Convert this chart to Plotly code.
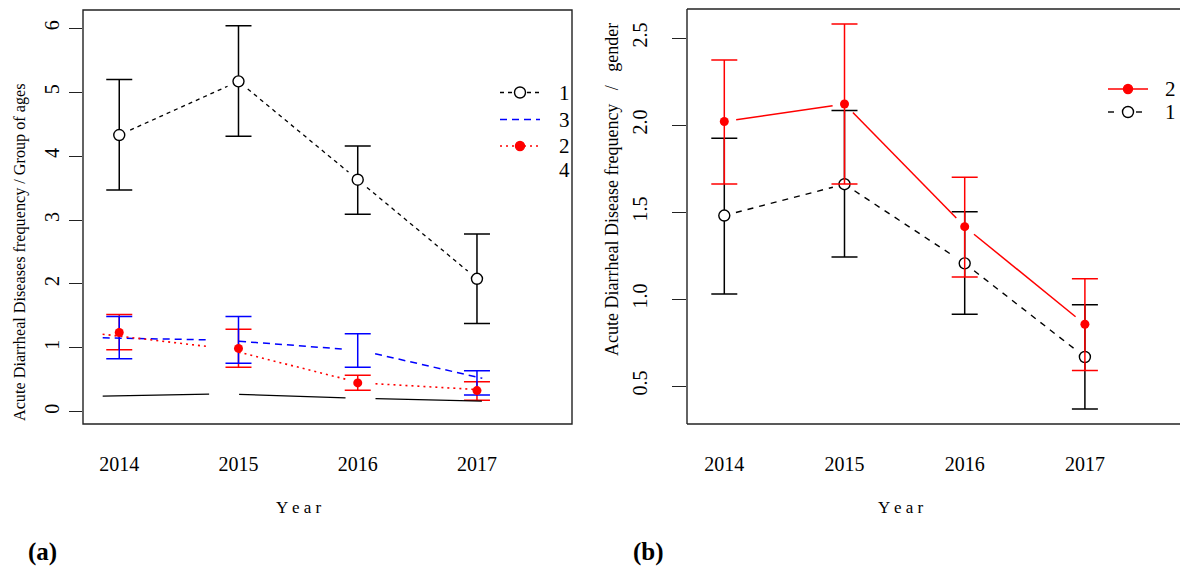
import plotly.graph_objects as go

# ---------------- data ----------------
years = [2014, 2015, 2016, 2017]
year_labels = ["2014", "2015", "2016", "2017"]

# panel (a): age groups
g1_mean = [4.33, 5.17, 3.63, 2.08]
g1_upper = [5.20, 6.04, 4.16, 2.78]
g1_lower = [3.47, 4.31, 3.09, 1.38]
g2_mean = [1.24, 0.99, 0.45, 0.33]
g2_upper = [1.52, 1.29, 0.57, 0.47]
g2_lower = [0.97, 0.695, 0.335, 0.18]
g3_mean = [1.16, 1.12, 0.96, 0.47]
g3_upper = [1.49, 1.49, 1.22, 0.64]
g3_lower = [0.83, 0.76, 0.695, 0.26]
g4_mean = [0.24, 0.28, 0.21, 0.16]
a_ticks = [0, 1, 2, 3, 4, 5, 6]
a_legend = ["1", "3", "2", "4"]

# panel (b): gender
s1_mean = [1.48, 1.66, 1.205, 0.667]
s1_upper = [1.924, 2.084, 1.502, 0.967]
s1_lower = [1.029, 1.241, 0.912, 0.368]
s2_mean = [2.02, 2.121, 1.416, 0.855]
s2_upper = [2.374, 2.58, 1.70, 1.117]
s2_lower = [1.661, 1.661, 1.126, 0.59]
b_ticks = [0.5, 1.0, 1.5, 2.0, 2.5]
b_ticktext = ["0.5", "1.0", "1.5", "2.0", "2.5"]
b_legend = ["2", "1"]

# ---------------- geometry ----------------
W, H = 1180, 571
FONT = "Liberation Serif"
A_L, A_R, A_T, A_B = 83, 572, 10, 424
B_L, B_R, B_T, B_B = 687, 1180, 9, 424

ax_a = (2013.696, 2017.797)      # primary x (points / error bars)
ax_a2 = (2013.9655, 2017.5506)   # overlaid x used by the lines of groups 2-4
ay_a = (-0.1925, 6.2864)
ax_b = (2013.6897, 2017.7912)
ay_b = (0.282, 2.6667)


def mapper(rng, p0, p1):
    d0, d1 = rng
    to_px = lambda v: p0 + (v - d0) / (d1 - d0) * (p1 - p0)
    to_d = lambda p: d0 + (p - p0) / (p1 - p0) * (d1 - d0)
    return to_px, to_d


def gapped(xs, ys, xr, xp, yr, yp, gap):
    """Line segments between consecutive points, shortened at both ends (R type='b')."""
    fx, gx = mapper(xr, *xp)
    fy, gy = mapper(yr, *yp)
    ox, oy = [], []
    for i in range(len(xs) - 1):
        px_, py_ = fx(xs[i]), fy(ys[i])
        qx, qy = fx(xs[i + 1]), fy(ys[i + 1])
        d = ((qx - px_) ** 2 + (qy - py_) ** 2) ** 0.5
        t = gap / d
        ox += [gx(px_ + (qx - px_) * t), gx(qx - (qx - px_) * t), None]
        oy += [gy(py_ + (qy - py_) * t), gy(qy - (qy - py_) * t), None]
    return ox, oy


def ebar(x, m, u, l, color, xaxis, yaxis):
    return go.Scatter(
        x=x, y=m, mode="markers", xaxis=xaxis, yaxis=yaxis,
        marker=dict(size=1, color="rgba(0,0,0,0)"), showlegend=False, hoverinfo="skip",
        error_y=dict(type="data", symmetric=False,
                     array=[a - b for a, b in zip(u, m)],
                     arrayminus=[b - c for b, c in zip(m, l)],
                     color=color, thickness=1.5, width=13))


fig = go.Figure()

A_XP = (A_L, A_R)
A_YP = (A_B, A_T)
B_XP = (B_L, B_R)
B_YP = (B_B, B_T)

# ----- panel (a) -----
x4, y4 = gapped(years, g4_mean, ax_a2, A_XP, ay_a, A_YP, 15)
fig.add_trace(go.Scatter(x=x4, y=y4, mode="lines", xaxis="x2", yaxis="y",
                         line=dict(color="black", width=1.3), showlegend=False))
x3, y3 = gapped(years, g3_mean, ax_a2, A_XP, ay_a, A_YP, 15)
fig.add_trace(go.Scatter(x=x3, y=y3, mode="lines", xaxis="x2", yaxis="y",
                         line=dict(color="#0000FF", width=1.5, dash="7px,5px"), showlegend=False))
x2l, y2l = gapped(years, g2_mean, ax_a2, A_XP, ay_a, A_YP, 15)
fig.add_trace(go.Scatter(x=x2l, y=y2l, mode="lines", xaxis="x2", yaxis="y",
                         line=dict(color="#FF0000", width=1.6, dash="2px,4px"), showlegend=False))
x1l, y1l = gapped(years, g1_mean, ax_a, A_XP, ay_a, A_YP, 12)
fig.add_trace(go.Scatter(x=x1l, y=y1l, mode="lines", xaxis="x", yaxis="y",
                         line=dict(color="black", width=1.3, dash="4px,4px"), showlegend=False))

fig.add_trace(ebar(years, g1_mean, g1_upper, g1_lower, "black", "x", "y"))
fig.add_trace(ebar(years, g2_mean, g2_upper, g2_lower, "#FF0000", "x", "y"))
fig.add_trace(ebar(years, g3_mean, g3_upper, g3_lower, "#0000FF", "x", "y"))
fig.add_trace(go.Scatter(x=years, y=g1_mean, mode="markers", xaxis="x", yaxis="y",
                         marker=dict(symbol="circle", size=11, color="white",
                                     line=dict(color="black", width=1.4)), showlegend=False))
fig.add_trace(go.Scatter(x=years, y=g2_mean, mode="markers", xaxis="x", yaxis="y",
                         marker=dict(symbol="circle", size=9, color="#FF0000", line=dict(width=0)),
                         showlegend=False))

# ----- panel (b) -----
xb1, yb1 = gapped(years, s1_mean, ax_b, B_XP, ay_b, B_YP, 12)
fig.add_trace(go.Scatter(x=xb1, y=yb1, mode="lines", xaxis="x3", yaxis="y3",
                         line=dict(color="black", width=1.4, dash="6px,6px"), showlegend=False))
fig.add_trace(ebar(years, s1_mean, s1_upper, s1_lower, "black", "x3", "y3"))
fig.add_trace(go.Scatter(x=years, y=s1_mean, mode="markers", xaxis="x3", yaxis="y3",
                         marker=dict(symbol="circle", size=11, color="white",
                                     line=dict(color="black", width=1.4)), showlegend=False))
xb2, yb2 = gapped(years, s2_mean, ax_b, B_XP, ay_b, B_YP, 12)
fig.add_trace(go.Scatter(x=xb2, y=yb2, mode="lines", xaxis="x3", yaxis="y3",
                         line=dict(color="#FF0000", width=1.5), showlegend=False))
fig.add_trace(ebar(years, s2_mean, s2_upper, s2_lower, "#FF0000", "x3", "y3"))
fig.add_trace(go.Scatter(x=years, y=s2_mean, mode="markers", xaxis="x3", yaxis="y3",
                         marker=dict(symbol="circle", size=9, color="#FF0000", line=dict(width=0)),
                         showlegend=False))

# ---------------- layout ----------------
def px(x):
    return x / W


def py(y):
    return 1 - y / H


tickfont = dict(family=FONT, size=20, color="black")
xcommon = dict(tickvals=years, ticktext=year_labels, ticks="", showline=False, showgrid=False,
               zeroline=False, tickfont=tickfont, ticklabelstandoff=26)
ycommon = dict(ticks="outside", tickwidth=1.3, tickcolor="#222", showline=False,
               showgrid=False, zeroline=False, tickfont=tickfont, tickangle=-90)

fig.update_layout(
    width=W, height=H, margin=dict(l=0, r=0, t=0, b=0),
    paper_bgcolor="white", plot_bgcolor="white", showlegend=False,
    font=dict(family=FONT, color="black"),
    xaxis=dict(domain=[px(A_L), px(A_R)], range=list(ax_a), anchor="y", **xcommon),
    xaxis2=dict(overlaying="x", range=list(ax_a2), visible=False, anchor="y"),
    yaxis=dict(domain=[py(A_B), py(A_T)], range=list(ay_a), anchor="x",
               tickvals=a_ticks, ticklen=13, ticklabelstandoff=2, **ycommon),
    xaxis3=dict(domain=[px(B_L), 1.0], range=list(ax_b), anchor="y3", **xcommon),
    yaxis3=dict(domain=[py(B_B), py(B_T)], range=list(ay_b), anchor="x3",
                tickvals=b_ticks, ticktext=b_ticktext, ticklen=14, ticklabelstandoff=17,
                **ycommon),
)

shapes = []
shapes.append(dict(type="rect", xref="paper", yref="paper", x0=px(A_L), x1=px(A_R),
                   y0=py(A_B), y1=py(A_T), line=dict(color="#222", width=1.4)))


def hline(x0, x1, y, color, dash="solid", width=1.4):
    shapes.append(dict(type="line", xref="paper", yref="paper", x0=px(x0), x1=px(x1),
                       y0=py(y), y1=py(y), line=dict(color=color, width=width, dash=dash)))


def vline(x, y0, y1, color, width=1.4):
    shapes.append(dict(type="line", xref="paper", yref="paper", x0=px(x), x1=px(x),
                       y0=py(y0), y1=py(y1), line=dict(color=color, width=width)))


# panel (b) frame: its right side runs off the page
hline(B_L, B_R + 10, B_T, "#222")
hline(B_L, B_R + 10, B_B, "#222")
vline(B_L, B_T, B_B, "#222")


def dot(cx, cy, r, fill, line):
    shapes.append(dict(type="circle", xref="paper", yref="paper", x0=px(cx - r), x1=px(cx + r),
                       y0=py(cy + r), y1=py(cy - r), fillcolor=fill,
                       line=dict(color=line, width=1.4)))


# legend (a)
leg_a_y = [92.5, 119.5, 146, 170]
hline(500, 513, leg_a_y[0], "black", "4px,4px", 1.3)
hline(527, 540, leg_a_y[0], "black", "4px,4px", 1.3)
dot(520, leg_a_y[0], 5.5, "white", "black")
hline(500, 540, leg_a_y[1], "#0000FF", "7px,5px", 1.5)
hline(500, 540, leg_a_y[2], "#FF0000", "2px,4px", 1.6)
dot(520, leg_a_y[2], 4.5, "#FF0000", "#FF0000")

# legend (b)
leg_b_y = [89, 112]
hline(1108, 1148, leg_b_y[0], "#FF0000", "solid", 1.5)
dot(1128, leg_b_y[0], 4.5, "#FF0000", "#FF0000")
hline(1108, 1120, leg_b_y[1], "black", "6px,6px", 1.4)
hline(1136, 1148, leg_b_y[1], "black", "6px,6px", 1.4)
dot(1128, leg_b_y[1], 5.5, "white", "black")

fig.update_layout(shapes=shapes)


def label(text, x, y, size, angle=0):
    return dict(text=text, x=px(x), y=py(y), xref="paper", yref="paper", showarrow=False,
                xanchor="center", yanchor="middle", textangle=angle,
                font=dict(family=FONT, size=size, color="black"))


ann = []
for lab, yy in zip(a_legend, leg_a_y):
    ann.append(label(lab, 564, yy, 21))
for lab, yy in zip(b_legend, leg_b_y):
    ann.append(label(lab, 1170, yy, 21))
ann.append(label("Acute Diarrheal Diseases frequency / Group of ages", 20, 252, 16.2, -90))
ann.append(label("Acute Diarrheal Disease frequency&nbsp;&nbsp;&nbsp;/&nbsp;&nbsp;&nbsp;gender",
                 612, 190, 18, -90))
ann.append(label("Y e a r", 298, 507, 17))
ann.append(label("Y e a r", 900, 507, 17))
ann.append(label("<b>(a)</b>", 42, 552, 25))
ann.append(label("<b>(b)</b>", 648, 552, 25))
fig.update_layout(annotations=ann)

fig.write_html("out.html", config={"displayModeBar": False},
               post_script="document.body.style.margin='0';document.body.style.overflow='hidden';")
